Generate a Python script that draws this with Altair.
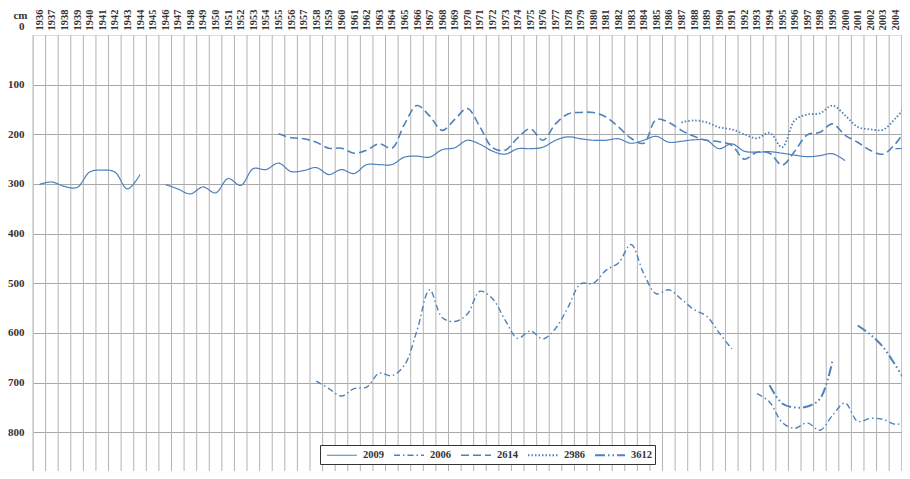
import altair as alt
import pandas as pd

# ---- data ----
years = list(range(1936, 2005))
y_ticks = [0, 100, 200, 300, 400, 500, 600, 700, 800]
series_order = ["2009", "2006", "2614", "2986", "3612"]

# well 2009 (solid) – three pieces
w2009_a_years = list(range(1936, 1945))
w2009_a = [301, 296, 305, 307, 276, 272, 276, 310, 281]
w2009_b_years = list(range(1946, 2001))
w2009_b = [301, 310, 320, 306, 318, 289, 303, 269, 271, 258,
           275, 273, 267, 281, 271, 279, 261, 261, 261, 246,
           244, 246, 231, 227, 212, 220, 234, 240, 229, 229,
           226, 212, 205, 209, 212, 212, 209, 218, 212, 204,
           216, 214, 211, 212, 229, 219, 234, 236, 235, 238,
           242, 245, 243, 239, 253]
w2009_c_years = [2004, 2005]
w2009_c = [229, 228]

# well 2006 (dash-dot) – two pieces
w2006_a_years = list(range(1958, 1992))
w2006_a = [697, 712, 727, 712, 709, 681, 686, 665, 595, 513,
           569, 577, 562, 516, 531, 574, 611, 596, 612, 591,
           548, 501, 500, 474, 459, 422, 480, 521, 513, 532,
           553, 566, 600, 632]
w2006_b_years = list(range(1993, 2006))
w2006_b = [722, 739, 780, 792, 781, 796, 766, 741, 778, 772, 774, 784, 778]

# well 2614 (dashed)
w2614_years = list(range(1955, 2006))
w2614 = [199, 207, 209, 216, 228, 228, 238, 232, 219, 228,
         180, 142, 163, 192, 170, 148, 185, 227, 232, 207,
         189, 212, 179, 159, 156, 156, 165, 185, 208, 218,
         170, 176, 192, 204, 212, 215, 222, 250, 236, 238,
         262, 234, 201, 196, 179, 202, 216, 232, 240, 219,
         182]

# well 2986 (dotted)
w2986_years = list(range(1987, 2006))
w2986 = [176, 172, 176, 186, 190, 200, 208, 197, 226, 172,
         160, 158, 142, 162, 185, 190, 191, 168, 138]

# well 3612 (long dash, dot, dot) – two pieces
w3612_a_years = list(range(1994, 2000))
w3612_a = [705, 742, 750, 748, 733, 656]
w3612_b_years = list(range(2001, 2006))
w3612_b = [585, 603, 628, 665, 705]

pieces = [
    ("2009", "a", w2009_a_years, w2009_a),
    ("2009", "b", w2009_b_years, w2009_b),
    ("2009", "c", w2009_c_years, w2009_c),
    ("2006", "a", w2006_a_years, w2006_a),
    ("2006", "b", w2006_b_years, w2006_b),
    ("2614", "a", w2614_years, w2614),
    ("2986", "a", w2986_years, w2986),
    ("3612", "a", w3612_a_years, w3612_a),
    ("3612", "b", w3612_b_years, w3612_b),
]
rows = []
for name, seg, yrs, vals in pieces:
    for yr, v in zip(yrs, vals):
        rows.append({"year": yr, "value": v, "series": name, "seg": name + seg})
df = pd.DataFrame(rows)

bounds = pd.DataFrame({"b": [y - 0.5 for y in years] + [years[-1] + 0.5]})

BLUE = "#4F81BD"
FONT = "Liberation Serif"
TXT = "#333333"
xscale = alt.Scale(domain=[1935.5, 2004.52], nice=False, zero=False)
yscale = alt.Scale(domain=[0, 878], reverse=True, nice=False, zero=False)

xaxis = alt.Axis(
    orient="top", values=years, format="d", labelAngle=270,
    labelAlign="left", labelBaseline="middle", ticks=False,
    domain=False, grid=False, labelPadding=5, labelFontSize=10.5,
    labelFont=FONT, labelFontWeight="bold", labelColor=TXT,
    labelOverlap=False, labelBound=False, labelFlush=False, title=None,
)

vgrid = alt.Chart(bounds).mark_rule(color="#b4b4b4", strokeWidth=1).encode(
    x=alt.X("b:Q", scale=xscale, axis=xaxis)
)

lines = alt.Chart(df).mark_line(
    color=BLUE, interpolate="catmull-rom", clip=True
).encode(
    x=alt.X("year:Q", scale=xscale, axis=xaxis),
    y=alt.Y(
        "value:Q", scale=yscale,
        axis=alt.Axis(
            values=y_ticks, format="d", ticks=False, domain=False, grid=True,
            gridColor="#a8a8a8", gridWidth=1,
            gridOpacity={"condition": {"test": "datum.value === 0", "value": 0}, "value": 1},
            labelOffset={"condition": {"test": "datum.value === 0", "value": -9}, "value": 0},
            labelFont=FONT, labelFontSize=11, labelFontWeight="bold",
            labelColor=TXT, labelPadding=9,
            title="cm", titleAngle=0, titleX=-13, titleY=-20,
            titleAlign="center", titleBaseline="middle", titleFont=FONT,
            titleFontSize=11, titleFontWeight="bold", titleColor=TXT,
        ),
    ),
    strokeDash=alt.StrokeDash(
        "series:N",
        scale=alt.Scale(
            domain=series_order,
            range=[[1, 0], [6, 3, 1.5, 3], [8, 4], [1.5, 2], [10, 3, 1.5, 3, 1.5, 3]],
        ),
        legend=alt.Legend(
            title=None, orient="none", legendX=287, legendY=410,
            direction="horizontal", fillColor="white", strokeColor=TXT,
            padding=3, symbolType="M-2.5,0H2.5", symbolSize=144,
            symbolOffset=12, symbolStrokeWidth=1.8, symbolStrokeColor=BLUE,
            labelFont=FONT, labelFontSize=10.5, labelFontWeight="bold",
            labelColor=TXT, columnPadding=6, labelOffset=14,
        ),
    ),
    strokeWidth=alt.StrokeWidth(
        "series:N",
        scale=alt.Scale(domain=series_order, range=[1.2, 2, 2, 1.6, 2]),
        legend=None,
    ),
    detail="seg:N",
    order="year:Q",
)

chart = alt.layer(vgrid, lines).properties(
    width=869, height=436,
    autosize=alt.AutoSizeParams(type="none"),
    padding={"left": 25, "top": 27, "right": 0, "bottom": 0},
).configure_view(stroke=None).configure(background="white")

chart.save("out.html", embed_options={"renderer": "svg", "actions": False})
